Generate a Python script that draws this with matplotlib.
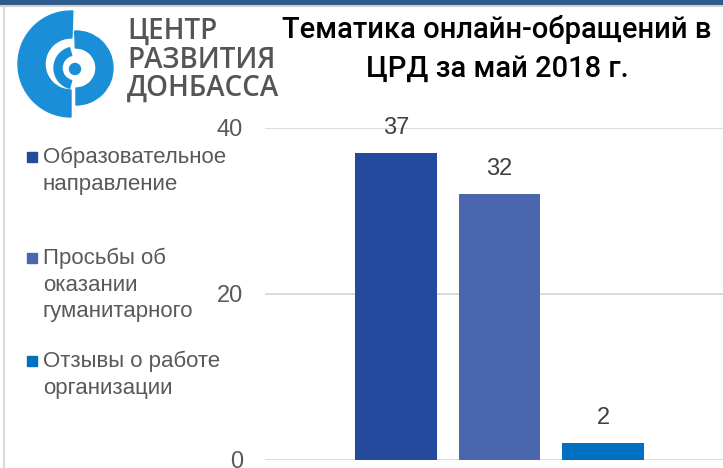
import matplotlib
matplotlib.use("Agg")
from matplotlib import pyplot as plt
from matplotlib.patches import Wedge, Circle, Rectangle

# данные диаграммы
categories = ["Образовательное\nнаправление",
              "Просьбы об\nоказании\nгуманитарного",
              "Отзывы о работе\nорганизации"]
values = [37, 32, 2]
colors = ["#234A9C", "#4A66AE", "#0070C0"]
y_ticks = [0, 20, 40]
title = "Тематика онлайн-обращений в\nЦРД за май 2018 г."
logo_text = "ЦЕНТР\nРАЗВИТИЯ\nДОНБАССА"

W, H = 723, 468
plt.rcParams['font.family'] = ['Liberation Sans', 'DejaVu Sans']
fig = plt.figure(figsize=(W / 100, H / 100), dpi=100)
fig.patch.set_facecolor("white")

# основная ось с барами
ax = fig.add_axes([265 / W, (H - 460) / H, (W - 265) / W, 332 / H])
x = list(range(len(values)))
bars = ax.bar(x, values, width=0.79, color=colors, zorder=3)
ax.set_ylim(0, 40)
ax.set_xlim(-1.266, 3.16)
ax.set_yticks(y_ticks)
ax.yaxis.grid(True, color="#D9D9D9", linewidth=1.3, zorder=0)
ax.tick_params(axis="y", length=0, pad=16, labelsize=17, labelcolor="#595959")
ax.set_xticks([])
for s in ax.spines.values():
    s.set_visible(False)
for b, v in zip(bars, values):
    ax.annotate(str(v), (b.get_x() + b.get_width() / 2, v), xytext=(0, 18),
                textcoords="offset points", ha="center", va="center",
                fontsize=17, color="#404040", clip_on=False)

# слой в пиксельных координатах: рамка, логотип, заголовок, легенда
ov = fig.add_axes([0, 0, 1, 1], facecolor="none")
ov.set_xlim(0, W)
ov.set_ylim(H, 0)
ov.axis("off")
ov.add_patch(Rectangle((0, 0), W, 3.5, color="#2F5A8C"))
ov.plot([0, W], [5.5, 5.5], color="#D0D0D0", lw=1.5)
ov.plot([4, 4], [6, H], color="#D9D9D9", lw=1.5)

blue = "#1A8FD8"
ov.add_patch(Wedge((71, 64), 53, 90, 272, width=27, color=blue))
ov.add_patch(Wedge((76, 68), 37, -92, 90, width=17, color=blue))
ov.add_patch(Wedge((75, 68), 21, 105, 255, width=8, color=blue))
ov.add_patch(Circle((75, 69), 5.5, color=blue))
ov.text(127, 60, logo_text, fontsize=20, color="#555555", ha="left",
        va="center", linespacing=0.98, family=["Open Sans", "DejaVu Sans"],
        fontweight="semibold")

ov.text(497, 49, title, fontsize=21, color="black", ha="center",
        va="center", linespacing=1.52, family=["Roboto", "DejaVu Sans"],
        fontweight="medium")

leg_y = [157, 258, 361]
for lbl, c, yy in zip(categories, colors, leg_y):
    ov.add_patch(Rectangle((27, yy - 5), 10, 10, color=c))
    ov.text(43, yy - 10, lbl, fontsize=16, color="#595959", ha="left",
            va="top", linespacing=1.35)

fig.savefig("out.png", dpi=100)
